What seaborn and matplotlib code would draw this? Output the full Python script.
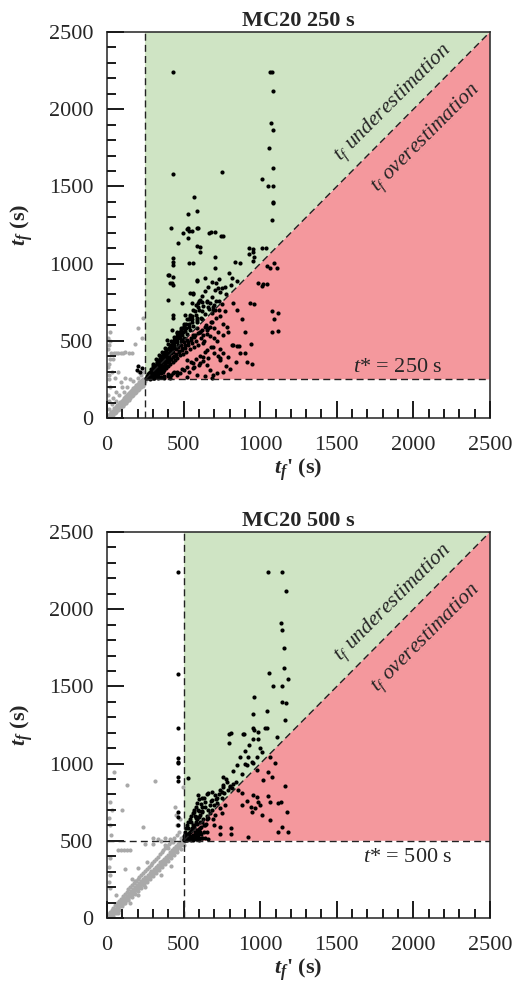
import numpy as np
import pandas as pd
import matplotlib
matplotlib.use("Agg")
import matplotlib.pyplot as plt
import seaborn as sns
from matplotlib.ticker import MultipleLocator

sns.set_style("ticks")
plt.rcParams["font.family"] = ["Liberation Serif", "DejaVu Serif"]
plt.rcParams["mathtext.fontset"] = "custom"
plt.rcParams["mathtext.rm"] = "Liberation Serif"
plt.rcParams["mathtext.it"] = "Liberation Serif:italic"
plt.rcParams["mathtext.bf"] = "Liberation Serif:bold"
plt.rcParams["mathtext.bfit"] = "Liberation Serif:bold:italic"

titles = ["MC20 250 s", "MC20 500 s"]
t_star = [250, 500]
ax_max = 2500
green = "#cfe4c4"
red = "#f4989d"

# ---- panel 1 (t* = 250 s) ----
black1 = [
    (430,2240),(1065,2240),(1080,2240),(1081,2116),(1070,1913),(1081,1865),(1060,1749),(1081,1619),
    (433,1580),(753,1591),(1010,1546),(1053,1505),(1081,1505),(570,1433),(1081,1399),(1081,1390),
    (531,1323),(589,1341),(1075,1280),(418,1232),(531,1229),(593,1232),(494,1196),(520,1222),
    (537,1211),(585,1229),(668,1200),(676,1203),(742,1179),(461,1131),(527,1164),(585,1114),
    (929,1099),(1014,1103),(557,1211),(705,1207),(759,1179),(607,1110),(607,1077),(951,1093),
    (955,1077),(1036,1103),(929,1060),(961,1045),(433,1038),(433,1012),(433,991),(535,1002),
    (561,1002),(705,1043),(836,1012),(868,1002),(951,1017),(1092,1002),(1107,973),(407,926),
    (433,915),(422,872),(433,861),(705,969),(798,941),(814,905),(847,887),(640,905),(683,883),
    (733,898),(585,887),(1010,855),(1043,866),(396,764),(563,803),(553,743),(488,743),(749,840),
    (738,818),(433,667),(433,646),(1075,693),(1114,682),(1092,639),(1075,559),(1114,563),
    (824,743),(961,736),(1042,984),(1064,973),(988,872),(1020,866),(933,747),(781,591),(847,466),
    (864,466),(901,423),(912,365),(944,348),(803,315),(727,401),(738,386),(651,343),(687,257),
    (400,926),(411,876),(589,894),(542,808),(563,808),(607,764),(596,743),(651,753),(672,743),
    (694,721),(705,699),(683,678),(711,872),(705,829),(727,840),(509,667),(542,656),(585,635),
    (422,570),(455,549),(390,505),(433,494),(488,505),(585,581),(607,559),(629,538),(651,570),
    (672,591),(563,538),(629,484),(651,440),(694,462),(629,397),(607,354),(563,354),(520,376),
    (759,419),(792,397),(814,473),(825,473),(738,376),(716,289),(672,311),(585,278),(520,267),
    (455,278),(411,257),(563,322),(193,311),(215,300),(228,322),(205,340),
    (255,262),(262,258),(268,275),(272,266),(278,285),(281,270),(286,296),(290,280),(294,305),
    (297,288),(300,262),(303,318),(306,296),(310,282),(312,330),(315,305),(318,270),(320,342),
    (323,315),(326,298),(330,350),(333,325),(336,285),(340,362),(343,338),(346,310),(350,372),
    (352,290),(355,348),(358,320),(360,385),(363,300),(366,360),(369,335),(372,395),(375,310),
    (378,372),(381,345),(384,410),(387,325),(390,385),(393,360),(396,420),(400,338),(403,400),
    (406,372),(410,440),(413,352),(416,418),(420,385),(424,460),(428,365),(432,430),(436,400),
    (440,475),(444,378),(448,445),(452,410),(456,495),(460,390),(465,460),(470,425),(474,520),
    (478,405),(483,475),(488,440),(492,540),(497,415),(502,490),(507,455),(512,565),(517,430),
    (522,505),(528,470),(534,590),(540,445),(546,520),(552,485),(558,620),(565,460),(572,540),
    (580,500),(588,650),(596,475),(604,560),(612,520),(620,690),(630,500),(640,590),(650,545),
    (660,720),(672,530),(684,620),(696,580),(710,760),(725,560),(740,660),(760,610),(780,800),
    (300,350),(320,380),(340,410),(360,430),(380,455),(400,480),(420,500),(440,525),(460,555),
    (480,580),(500,610),(520,640),(540,670),(560,700),(580,730),(600,760),(620,790),(640,820),
    (660,850),(310,260),(340,265),(370,275),(400,270),(430,290),(460,300),(490,320),(520,330),
    (550,360),(580,380),(610,400),(640,430),(680,460),(720,500),
    (258,270),(265,282),(271,259),(276,292),(283,300),(288,262),(292,318),(299,310),(304,276),
    (309,340),(314,322),(319,288),(324,355),(329,337),(334,302),(338,377),(344,352),(349,318),
    (354,395),(359,366),(364,333),(368,412),(374,388),(379,352),(385,430),(391,402),(396,365),
    (402,455),(408,418),(414,380),(419,472),(425,440),(431,395),(437,492),(443,455),(449,415),
    (455,512),(462,472),(468,432),(475,540),(481,498),(487,455),(494,560),(500,520),(506,470),
    (514,585),(520,545),(527,490),(533,610),(541,570),(548,505),(556,640),(563,595),(570,525),
    (578,668),(586,622),(594,548),(602,700),(611,648),(619,570),(628,728),(637,675),(646,600),
    (655,755),(665,705),(676,625),(688,785),(700,735),(712,650),(730,700),(750,740),(770,690),
    (332,372),(356,402),(376,430),(398,448),(418,470),(438,505),(458,528),(476,560),(496,585),
    (516,612),(536,640),(556,662),(574,690),(596,720),(618,750),(285,320),(300,335),(325,365),
    (345,390),(365,410),(388,440),(408,462),(428,485),(447,510),(468,540),(486,570),(505,598),
    (282,252),(305,258),(330,262),(352,268),(375,262),(395,285),(418,278),(438,300),(478,290),
    (505,310),(538,300),(568,330),(600,345),(625,370),(660,390),(700,420),(740,450),(700,520),
    (660,580),(620,640),(760,540),(790,560),(690,700),(730,760),(770,850),(810,860),(850,700),
    (880,640),(900,560),(940,480),(870,420),(840,360),(780,340),(760,300),(690,280),(640,270),
]
grey1 = [
    (5,8),(10,5),(15,20),(20,12),(25,30),(30,22),(35,40),(40,30),(45,55),(50,42),(55,60),(60,50),
    (65,75),(70,62),(75,80),(80,70),(85,95),(90,82),(95,100),(100,90),(105,118),(110,100),(115,120),
    (120,110),(125,140),(130,120),(135,142),(140,130),(145,160),(150,140),(155,162),(160,150),
    (165,180),(170,160),(175,185),(180,172),(185,200),(190,180),(195,205),(200,192),(205,220),
    (210,200),(215,225),(220,210),(225,240),(230,222),(235,245),(240,232),(245,252),(248,240),
    (8,18),(18,25),(28,38),(38,48),(48,62),(58,70),(68,85),(78,92),(88,105),(98,112),(108,128),
    (118,136),(128,148),(138,156),(148,170),(158,176),(168,192),(178,196),(188,212),(198,214),
    (208,230),(218,232),(228,248),(238,250),(12,2),(22,10),(32,15),(42,22),(52,35),(62,40),
    (72,55),(82,58),(92,72),(102,78),(112,92),(122,98),(132,112),(142,118),(152,132),(162,140),
    (172,152),(182,160),(192,170),(202,182),(212,190),(222,198),(232,210),(242,222),
    (10,60),(15,110),(8,150),(20,200),(12,250),(30,300),(10,350),(25,420),(45,420),(60,420),
    (75,420),(90,420),(105,420),(120,425),(145,420),(160,420),(233,650),(200,580),(230,520),
    (180,480),(20,500),(5,450),(40,380),(70,300),(120,260),(100,200),(60,170),(150,250),(210,300),
    (40,130),(80,150),(30,90),(15,280),(8,330),(18,380),(10,470),(8,520),(20,560),(50,260),
    (90,230),(130,200),(170,240),(200,260),(220,280),(240,300),(60,110),(110,170),
]

# ---- panel 2 (t* = 500 s) ----
black2 = [
    (461,2240),(1053,2239),(1144,2239),(1166,2115),(1136,1913),(1144,1864),(1157,1746),(461,1578),
    (1059,1589),(1157,1619),(1179,1546),(1081,1505),(1144,1505),(960,1434),(1140,1401),(1166,1393),
    (951,1321),(1046,1338),(1162,1280),(461,1232),(951,1229),(1029,1229),(798,1194),(894,1194),
    (959,1218),(809,1200),(886,1192),(988,1207),(1043,1229),(955,1162),(1108,1173),(796,1132),
    (461,1034),(461,1012),(461,1002),(461,915),(461,887),(531,905),(461,688),(461,655),(461,602),
    (570,688),(988,1159),(999,1099),(1010,1077),(977,1045),(944,1012),(1064,1045),(977,958),
    (922,1045),(912,991),(955,1002),(1097,1002),(1053,948),(1020,894),(1075,915),(1162,855),
    (759,915),(781,883),(803,858),(759,850),(749,818),(814,840),(683,818),(705,797),(661,808),
    (640,753),(672,732),(618,775),(596,797),(640,721),(618,689),(585,656),(618,624),(640,602),
    (651,559),(607,559),(574,538),(553,527),(542,516),(683,764),(716,743),(738,710),(705,667),
    (661,645),(749,678),(770,732),(879,732),(912,758),(940,721),(955,797),(977,786),(988,753),
    (966,710),(1049,790),(1064,753),(1118,743),(1134,753),(1173,685),(1064,635),(1118,559),
    (1140,592),(1179,559),(944,689),(999,732),(1010,667),(879,808),(857,829),(738,591),(738,541),
    (809,581),(809,541),(918,526),
    (505,510),(510,520),(515,505),(520,530),(525,515),(530,545),(535,520),(540,560),(545,530),
    (550,505),(555,575),(560,540),(565,515),(570,590),(575,555),(580,525),(585,610),(590,570),
    (595,540),(600,505),(605,620),(610,580),(615,545),(620,515),(625,640),(630,600),(500,530),
    (508,545),(512,560),(518,580),(525,600),(530,620),(540,640),(550,660),(560,680),(570,700),
    (580,720),(590,745),(600,770),(520,505),(540,510),(560,508),(580,512),(600,515),(620,520),
    (640,520),(660,510),(560,600),(580,650),(600,690),(620,720),(650,660),(660,700),(690,640),
    (700,600),(680,760),(720,780),(740,830),(760,860),(780,900),(820,950),(850,990),(870,1040),
    (900,1080),(930,1120),(880,930),(840,880),(800,850),(900,1000),
    (503,503),(507,515),(512,508),(517,522),(522,512),(527,535),(532,510),(537,548),(543,522),
    (548,565),(553,518),(558,585),(563,530),(568,605),(573,540),(578,625),(583,548),(588,640),
    (593,560),(598,655),(603,575),(608,670),(613,590),(618,690),(632,560),(645,610),(655,640),
    (670,680),(685,700),(700,730),(710,770),(730,800),(750,780),(765,810),(790,830),(820,870),
    (510,540),(530,580),(550,620),(575,660),(595,700),(615,740),(635,780),(655,800),
]
grey2 = [
    (5,5),(12,20),(18,8),(25,30),(30,18),(38,45),(45,35),(50,60),(58,48),(65,75),(70,60),(78,90),
    (85,75),(90,105),(98,88),(105,118),(110,100),(118,130),(125,115),(130,145),(138,125),(145,160),
    (150,140),(158,172),(165,155),(170,185),(178,165),(185,200),(190,180),(198,212),(205,195),
    (210,225),(218,205),(225,240),(230,220),(238,252),(245,235),(250,265),(258,245),(265,280),
    (270,258),(278,292),(285,272),(290,305),(298,285),(305,320),(310,298),(318,332),(325,312),
    (330,345),(338,325),(345,360),(350,338),(358,372),(365,352),(370,385),(378,365),(385,398),
    (390,378),(398,410),(405,392),(410,425),(418,405),(425,438),(430,418),(438,452),(445,432),
    (450,465),(458,445),(465,478),(470,458),(478,490),(485,470),(490,500),(495,485),
    (15,15),(35,32),(55,52),(75,72),(95,95),(115,112),(135,135),(155,150),(175,175),(195,192),
    (215,215),(235,232),(255,255),(275,272),(295,295),(315,312),(335,335),(355,352),(375,375),
    (395,392),(415,415),(435,432),(455,455),(475,472),(495,495),
    (8,25),(22,40),(32,55),(42,68),(55,82),(68,95),(80,110),(92,125),(104,140),(116,155),
    (128,170),(140,185),(152,198),(164,212),(176,225),(188,238),(200,252),(212,265),(224,278),
    (236,292),(248,305),(260,318),(272,330),(284,345),(296,358),(308,372),(320,385),(332,398),
    (344,412),(356,425),(368,438),(380,452),(392,466),(404,478),(416,490),(428,503),(440,515),
    (20,2),(40,15),(60,35),(80,55),(100,75),(120,95),(140,115),(160,135),(180,155),(200,175),
    (220,195),(240,215),(260,232),(280,252),(300,272),(320,292),(340,310),(360,330),(380,350),
    (400,370),(420,390),(440,410),(460,428),(480,448),(500,470),
    (48,947),(313,887),(128,861),(96,699),(237,591),(444,720),(448,667),(498,851),(20,750),
    (30,700),(15,650),(20,600),(25,540),(72,440),(90,440),(110,440),(130,440),(150,440),(205,322),
    (161,250),(183,237),(300,520),(330,510),(350,500),(380,520),(410,510),(430,490),(300,480),
    (250,480),(380,470),(400,455),(20,390),(15,330),(20,280),(15,230),(20,195),(60,150),(100,120),
    (150,100),(200,150),(250,200),(120,320),(30,40),(70,30),(260,360),(350,280),(420,340),
    (460,540),(470,560),(480,520),(455,600),(475,640),(440,450),
]

blacks = [black1, black2]
greys = [grey1, grey2]
tstar_text_x = [1900, 1965]
tstar_text_y = [330, 389]

fig = plt.figure(figsize=(5.3, 9.91), dpi=100)
tops = [32, 532]
axes = []
for top in tops:
    axes.append(fig.add_axes([107/530, 1-(top+386)/991, 383/530, 386/991]))

for i, ax in enumerate(axes):
    t = t_star[i]
    ax.set_axisbelow(False)
    ax.fill([t, t, ax_max], [t, ax_max, ax_max], color=green, lw=0, zorder=0)
    ax.fill([t, ax_max, ax_max], [t, ax_max, t], color=red, lw=0, zorder=0)

    g = pd.DataFrame(greys[i], columns=["tfp", "tf"])
    b = pd.DataFrame(blacks[i], columns=["tfp", "tf"])
    sns.scatterplot(data=g, x="tfp", y="tf", color="#a9a9a9", s=9, linewidth=0, ax=ax, zorder=2)
    sns.scatterplot(data=b, x="tfp", y="tf", color="black", s=9, linewidth=0, ax=ax, zorder=3)

    dash = dict(color="#222222", lw=1.0, ls=(0, (5, 3)), zorder=4)
    ax.axvline(t, **dash)
    x0 = t if i == 0 else 0
    ax.plot([x0, ax_max], [t, t], **dash)
    ax.plot([t, ax_max], [t, ax_max], **dash)

    ax.text(1867, 2040, r"$t_f$ underestimation", rotation=45, ha="center", va="center",
            fontsize=15.5, style="italic", rotation_mode="anchor")
    ax.text(2080, 1810, r"$t_f$ overestimation", rotation=45, ha="center", va="center",
            fontsize=15.5, style="italic", rotation_mode="anchor")
    ax.text(tstar_text_x[i], tstar_text_y[i], r"$t$* = %d s" % t, ha="center",
            va="center", fontsize=16)

    ax.set_xlim(0, ax_max)
    ax.set_ylim(0, ax_max)
    ax.xaxis.set_major_locator(MultipleLocator(500))
    ax.yaxis.set_major_locator(MultipleLocator(500))
    ax.xaxis.set_minor_locator(MultipleLocator(100))
    ax.yaxis.set_minor_locator(MultipleLocator(100))
    ax.tick_params(which="both", direction="in", color="#1a1a1a", width=1.4, labelsize=16)
    ax.tick_params(which="major", length=12)
    ax.tick_params(which="minor", length=6.5)
    ax.tick_params(axis="x", pad=13)
    ax.tick_params(axis="y", pad=10)
    for sp in ax.spines.values():
        sp.set_visible(True)
        sp.set_linewidth(1.2)
        sp.set_color("#333333")
    ax.set_title(titles[i], fontsize=16, fontweight="bold", pad=4)
    ax.set_xlabel(r"$\mathbfit{t_f}$' (s)", fontsize=16, fontweight="bold", labelpad=1)
    ax.set_ylabel(r"$\mathbfit{t_f}$ (s)", fontsize=16, fontweight="bold", labelpad=10)

fig.savefig("out.png", dpi=100)
